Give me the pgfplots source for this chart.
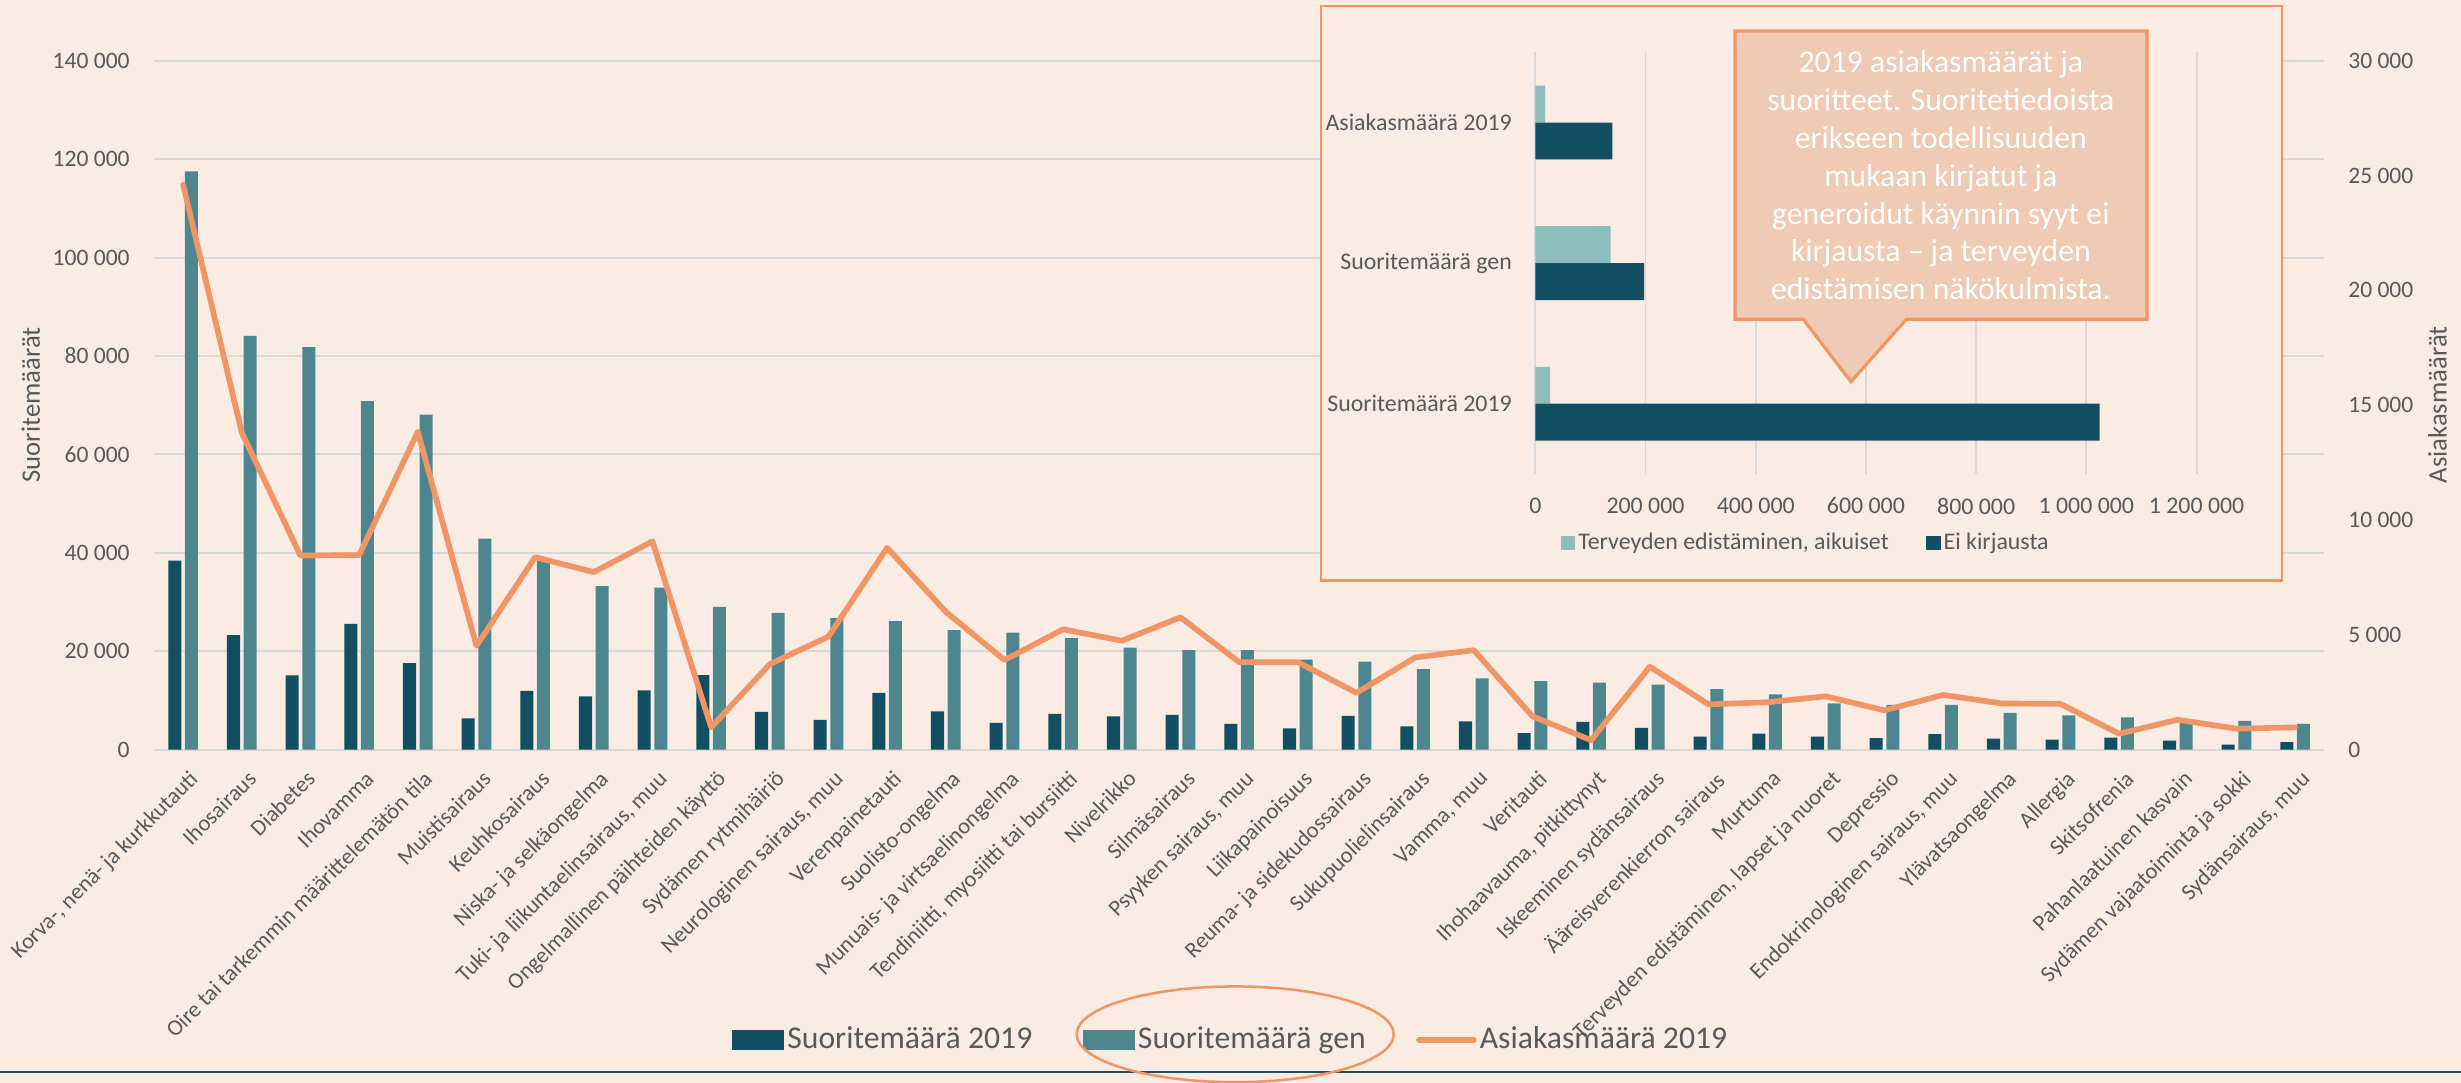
\documentclass[border=0pt]{standalone}
\usepackage{fontspec}
\setmainfont{Carlito}
\usepackage{pgfplots}
\usepackage{pgfplotstable}
\pgfplotsset{compat=1.18}

\definecolor{bgcol}{HTML}{FAEBE3}
\definecolor{darkbar}{HTML}{114E62}
\definecolor{tealbar}{HTML}{4E8690}
\definecolor{lightbar}{HTML}{8DBEBC}
\definecolor{linecol}{HTML}{EF9566}
\definecolor{callfill}{HTML}{EFCBB6}
\definecolor{gridgrey}{HTML}{D9D9D9}
\definecolor{txtgrey}{HTML}{595959}
\definecolor{rulecol}{HTML}{1B4F62}

% idx, Suoritemäärä 2019, Suoritemäärä gen, Asiakasmäärä 2019
\pgfplotstableread{
idx s2019 sgen asiakas
0  38400 117500 24600
1  23250  84100 13800
2  15060  81800  8450
3  25560  70800  8470
4  17580  68100 13840
5   6360  42900  4520
6  11930  38300  8380
7  10810  33200  7730
8  12030  32900  9070
9  15160  29000   970
10  7660  27800  3720
11  6060  26700  4920
12 11520  26100  8790
13  7780  24300  6000
14  5450  23750  3900
15  7270  22640  5240
16  6770  20710  4740
17  7070  20220  5760
18  5240  20220  3810
19  4330  18290  3810
20  6850  17880  2470
21  4730  16360  4010
22  5750  14450  4330
23  3330  13940  1450
24  5650  13630   410
25  4430  13230  3610
26  2620  12310  1970
27  3230  11220  2060
28  2620   9390  2320
29  2320   9080  1710
30  3130   9080  2380
31  2210   7480  2010
32  2010   6970  1990
33  2420   6560   690
34  1810   5750  1300
35  1000   5850   910
36  1500   5240   970
}\maindata

% inset: 0 = Suoritemäärä 2019, 1 = Suoritemäärä gen, 2 = Asiakasmäärä 2019
\pgfplotstableread{
idx terv eikirj
0  26900 1024000
1 136700  197500
2  17700  139800
}\insetdata

\begin{document}
\begin{tikzpicture}[x=1pt,y=1pt]
\fill[bgcol] (0,0) rectangle (784,345);
\draw[rulecol, line width=0.65pt] (0,3.6) -- (784,3.6);

% main chart, bars
\begin{axis}[
    at={(49pt,106.2pt)}, anchor=south west,
    scale only axis, width=691.5pt, height=219.45pt,
    xmin=-0.5, xmax=36.5, ymin=0, ymax=140000,
    scaled ticks=false,
    axis line style={draw=none}, tick style={draw=none},
    ymajorgrids, major grid style={gridgrey, line width=0.65pt},
    ytick={0,20000,40000,60000,80000,100000,120000,140000},
    yticklabels={0,20 000,40 000,60 000,80 000,100 000,120 000,140 000},
    yticklabel style={font=\fontsize{7.5}{9}\selectfont, text=txtgrey, inner sep=0pt, xshift=-7.5pt},
    xtick={0,...,36},
    xticklabels={{Korva-, nenä- ja kurkkutauti},Ihosairaus,Diabetes,Ihovamma,
      {Oire tai tarkemmin määrittelemätön tila},Muistisairaus,Keuhkosairaus,
      {Niska- ja selkäongelma},{Tuki- ja liikuntaelinsairaus, muu},
      {Ongelmallinen päihteiden käyttö},{Sydämen rytmihäiriö},
      {Neurologinen sairaus, muu},Verenpainetauti,Suolisto-ongelma,
      {Munuais- ja virtsaelinongelma},{Tendiniitti, myosiitti tai bursiitti},
      Nivelrikko,Silmäsairaus,{Psyyken sairaus, muu},Liikapainoisuus,
      {Reuma- ja sidekudossairaus},Sukupuolielinsairaus,{Vamma, muu},Veritauti,
      {Ihohaavauma, pitkittynyt},{Iskeeminen sydänsairaus},
      {Ääreisverenkierron sairaus},Murtuma,
      {Terveyden edistäminen, lapset ja nuoret},Depressio,
      {Endokrinologinen sairaus, muu},Ylävatsaongelma,Allergia,Skitsofrenia,
      {Pahanlaatuinen kasvain},{Sydämen vajaatoiminta ja sokki},{Sydänsairaus, muu}},
    xticklabel style={font=\fontsize{7.2}{8}\selectfont, text=txtgrey, inner sep=0pt,
      xshift=1.5pt, yshift=-6pt, rotate=45, anchor=north east},
]
\addplot[ybar, bar width=4.15pt, bar shift=-2.65pt, fill=darkbar, draw=none] table[x=idx, y=s2019] {\maindata};
\addplot[ybar, bar width=4.15pt, bar shift=2.65pt, fill=tealbar, draw=none] table[x=idx, y=sgen] {\maindata};
\end{axis}

% main chart, line on right axis
\begin{axis}[
    at={(49pt,106.2pt)}, anchor=south west,
    scale only axis, width=691.5pt, height=219.45pt,
    xmin=-0.5, xmax=36.5, ymin=0, ymax=30000,
    scaled ticks=false,
    axis line style={draw=none}, tick style={draw=none},
    xtick=\empty,
    ytick={0,5000,10000,15000,20000,25000,30000},
    yticklabels={0,5 000,10 000,15 000,20 000,25 000,30 000},
    yticklabel pos=right,
    yticklabel style={font=\fontsize{7.5}{9}\selectfont, text=txtgrey, inner sep=0pt, anchor=west, xshift=7.4pt},
    legend columns=3, legend cell align=left,
    legend style={at={(0.4963,-0.4215)}, anchor=center, draw=none, fill=none,
      font=\fontsize{10.1}{12}\selectfont, text=txtgrey, nodes={inner sep=1pt},
      /tikz/every even column/.append style={column sep=15pt}},
]
\addlegendimage{legend image code/.code={\fill[darkbar] (0pt,-2.85pt) rectangle (16.25pt,2.85pt);}}
\addlegendentry{Suoritemäärä 2019}
\addlegendimage{legend image code/.code={\fill[tealbar] (0pt,-2.85pt) rectangle (16.25pt,2.85pt);}}
\addlegendentry{Suoritemäärä gen}
\addplot[linecol, line width=1.8pt, line join=round, line cap=round,
  legend image code/.code={\draw[linecol, line width=1.8pt, line cap=round] (0pt,0pt) -- (17.5pt,0pt);}]
  table[x=idx, y=asiakas] {\maindata};
\addlegendentry{Asiakasmäärä 2019}
\end{axis}

\node[rotate=90, font=\fontsize{8.5}{10}\selectfont, text=txtgrey] at (9.8,216) {Suoritemäärät};
\node[rotate=90, font=\fontsize{8.5}{10}\selectfont, text=txtgrey] at (776.5,216) {Asiakasmäärät};

% inset
\draw[linecol, line width=0.7pt, fill=bgcol] (420.7,160.05) rectangle (726.85,343.1);
\begin{axis}[
    at={(489.1pt,194pt)}, anchor=south west,
    scale only axis, width=210.65pt, height=134.35pt,
    xmin=0, xmax=1200000, ymin=-0.5, ymax=2.5,
    scaled ticks=false,
    axis line style={draw=none}, tick style={draw=none},
    xmajorgrids, major grid style={gridgrey, line width=0.6pt},
    xtick={0,200000,400000,600000,800000,1000000,1200000},
    xticklabels={0,200 000,400 000,600 000,800 000,1 000 000,1 200 000},
    ytick={0,1,2},
    yticklabels={Suoritemäärä 2019, Suoritemäärä gen, Asiakasmäärä 2019},
    ticklabel style={font=\fontsize{7.6}{9}\selectfont, text=txtgrey, inner sep=0pt},
    xticklabel style={yshift=-7.4pt},
    yticklabel style={xshift=-7.3pt},
    legend columns=2, legend cell align=left,
    legend style={at={(0.41,-0.164)}, anchor=center, draw=none, fill=none,
      font=\fontsize{7.6}{9}\selectfont, text=txtgrey, nodes={inner sep=1pt},
      /tikz/every even column/.append style={column sep=11pt}},
]
\addplot[xbar, bar width=11.75pt, bar shift=5.875pt, fill=lightbar, draw=none,
  legend image code/.code={\fill[lightbar] (0pt,-2.25pt) rectangle (4.5pt,2.25pt);}]
  table[x=terv, y=idx] {\insetdata};
\addlegendentry{Terveyden edistäminen, aikuiset}
\addplot[xbar, bar width=11.75pt, bar shift=-5.875pt, fill=darkbar, draw=none,
  legend image code/.code={\fill[darkbar] (0pt,-2.25pt) rectangle (4.5pt,2.25pt);}]
  table[x=eikirj, y=idx] {\insetdata};
\addlegendentry{Ei kirjausta}
\end{axis}

% callout
\filldraw[fill=callfill, draw=linecol, line width=1pt, line join=miter]
  (552.7,335.1) -- (683.95,335.1) -- (683.95,243.3) -- (607.35,243.3)
  -- (589.65,223.4) -- (574.45,243.3) -- (552.7,243.3) -- cycle;
\node[text=white, align=center, font=\fontsize{10.1}{12.1}\selectfont] at (618.3,289.2)
  {2019 asiakasmäärät ja\\suoritteet. Suoritetiedoista\\erikseen todellisuuden\\mukaan kirjatut ja\\generoidut käynnin syyt ei\\kirjausta – ja terveyden\\edistämisen näkökulmista.};

% ellipse round the second legend entry
\begin{scope}
\clip (0,0) rectangle (784,345);
\draw[linecol, line width=0.8pt] (393.5,15.5) ellipse [x radius=50.5, y radius=15.25];
\end{scope}

\pgfresetboundingbox
\path[use as bounding box] (0,0) rectangle (784,345);
\end{tikzpicture}
\end{document}
